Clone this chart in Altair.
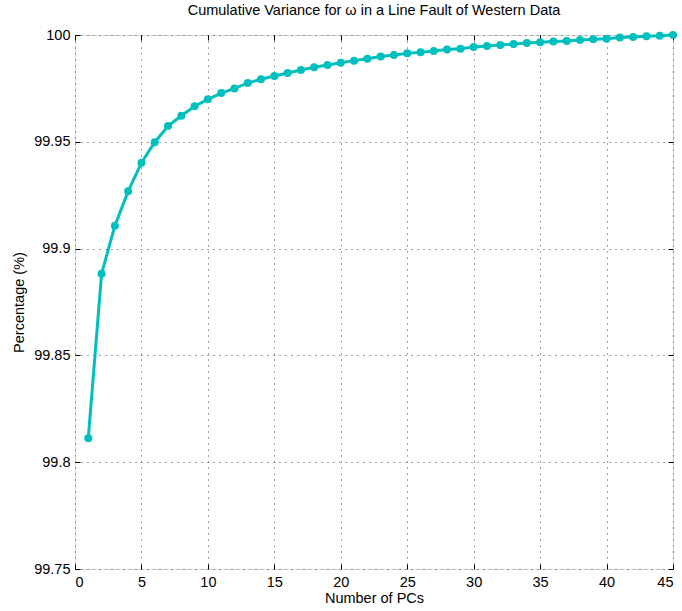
import altair as alt
import pandas as pd

# Cumulative explained variance (%) for each number of principal components
n_pcs = list(range(1, 46))
cum_variance = [
    99.8112, 99.8882, 99.9107, 99.9268, 99.9402, 99.9498, 99.9574, 99.9622,
    99.9666, 99.9699, 99.9728, 99.9750, 99.9775, 99.9793, 99.9808, 99.9822,
    99.9836, 99.9849, 99.9860, 99.9870, 99.9880, 99.9889, 99.9899, 99.9906,
    99.9914, 99.9919, 99.9925, 99.9932, 99.9936, 99.9944, 99.9949, 99.9953,
    99.9958, 99.9963, 99.9966, 99.9969, 99.9972, 99.9977, 99.9980, 99.9983,
    99.9988, 99.9991, 99.9994, 99.9997, 100.0000,
]
x_ticks = [0, 5, 10, 15, 20, 25, 30, 35, 40, 45]
y_ticks = [99.75, 99.8, 99.85, 99.9, 99.95, 100.0]

df = pd.DataFrame({"pcs": n_pcs, "pct": cum_variance})

FONT = "Liberation Sans"
FS = 14.5
LINE_COLOR = "#00BFBF"

x_scale = alt.Scale(domain=[0, 45], nice=False, zero=False)
y_scale = alt.Scale(domain=[99.75, 100.0], nice=False, zero=False)

# Labelled axes with dotted grid
x_main = alt.Axis(values=x_ticks, title="Number of PCs", grid=True, gridDash=[1, 5],
                  gridColor="#444", ticks=False, domain=False, labelPadding=6,
                  labelFontSize=FS, titleFontSize=FS, titleFontWeight="normal",
                  labelFont=FONT, titleFont=FONT, titlePadding=3, labelColor="black",
                  titleColor="black", format="~g")
y_main = alt.Axis(values=y_ticks, title="Percentage (%)", grid=True, gridDash=[1, 5],
                  gridColor="#444", ticks=False, domain=False, labelPadding=5,
                  labelFontSize=FS, titleFontSize=FS, titleFontWeight="normal",
                  labelFont=FONT, titleFont=FONT, titlePadding=7, labelColor="black",
                  titleColor="black", format="~g")


def inner_ticks(orient, values):
    # Tick marks drawn inward from the frame edge
    return alt.Axis(orient=orient, values=values, labels=False, title=None, grid=False,
                    domain=False, ticks=True, tickSize=5, offset=-5, tickColor="black",
                    tickWidth=1)


line = alt.Chart(df).mark_line(color=LINE_COLOR, strokeWidth=3).encode(
    x=alt.X("pcs:Q", scale=x_scale, axis=x_main),
    y=alt.Y("pct:Q", scale=y_scale, axis=y_main),
)

points = alt.Chart(df).mark_circle(color=LINE_COLOR, size=64, opacity=1).encode(
    x=alt.X("pcs:Q", scale=x_scale, axis=inner_ticks("top", x_ticks)),
    y=alt.Y("pct:Q", scale=y_scale, axis=inner_ticks("right", y_ticks)),
)

ticks_layer = alt.Chart(df).mark_circle(opacity=0).encode(
    x=alt.X("pcs:Q", scale=x_scale, axis=inner_ticks("bottom", x_ticks)),
    y=alt.Y("pct:Q", scale=y_scale, axis=inner_ticks("left", y_ticks)),
)

chart = (
    alt.layer(line, ticks_layer, points)
    .resolve_axis(x="independent", y="independent")
    .properties(
        width=598,
        height=534,
        autosize=alt.AutoSizeParams(type="none"),
        padding={"left": 75, "top": 35, "right": 9, "bottom": 42},
        title=alt.TitleParams(
            "Cumulative Variance for ω in a Line Fault of Western Data",
            font=FONT, fontSize=FS, fontWeight="normal", color="black",
            anchor="middle", offset=9,
        ),
    )
    .configure_view(stroke="black", strokeWidth=1)
    .configure(background="white")
)

chart.save("out.html", embed_options={"renderer": "svg", "actions": False})
